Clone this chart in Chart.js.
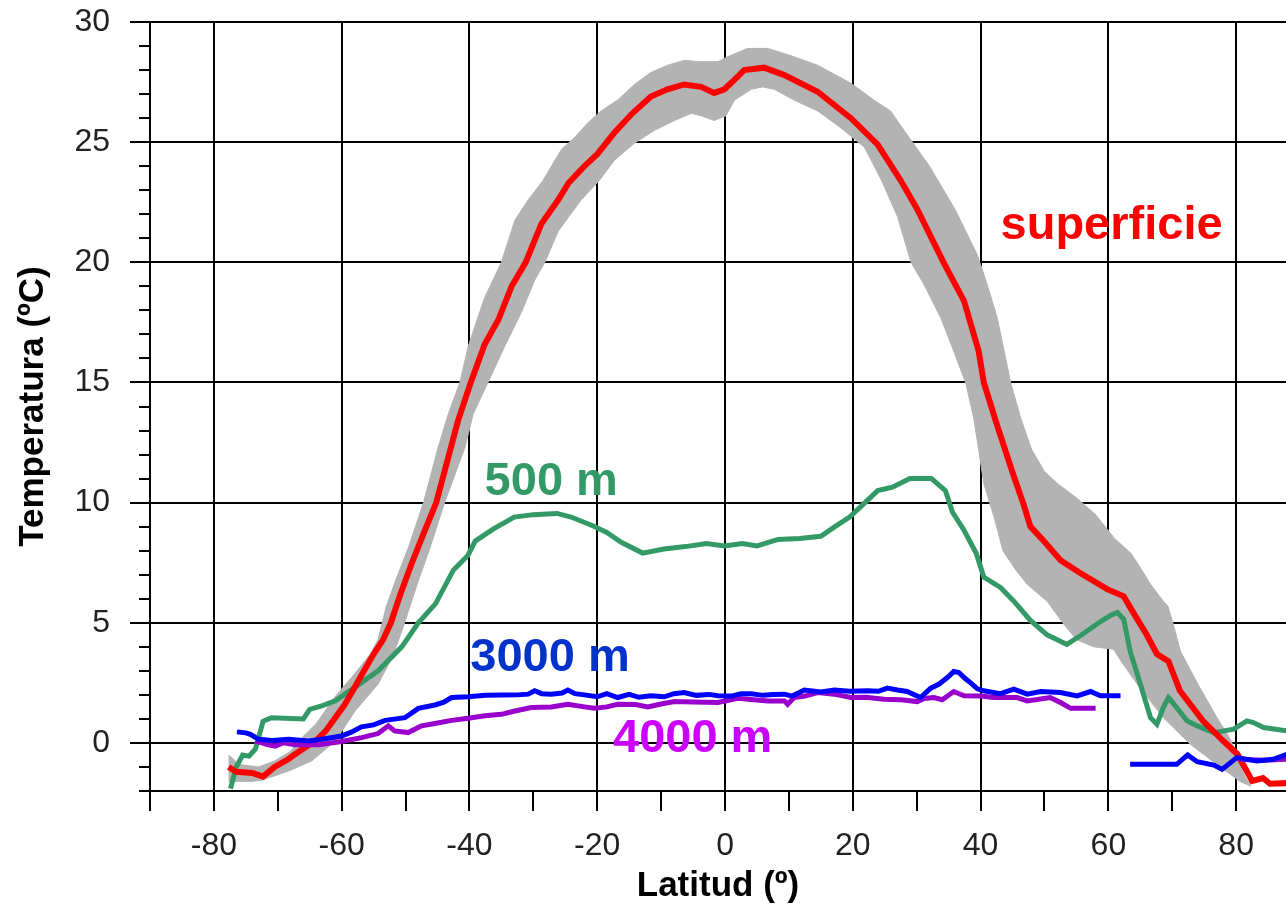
<!DOCTYPE html>
<html>
<head>
<meta charset="utf-8">
<title>Temperatura del océano según la latitud</title>
<script src="https://cdn.jsdelivr.net/npm/chart.js@4.4.1/dist/chart.umd.min.js"></script>
<style>
  html, body { margin: 0; padding: 0; background: #fff; }
  canvas { display: block; }
</style>
</head>
<body>
<canvas id="tempChart" width="1286" height="907"></canvas>
<script>
// Superficie (línea roja)
const surfLat = [-77.7, -76.5, -74, -72.3, -70.5, -68.5, -67.3, -65.5, -64, -62.5, -61, -59.5, -58, -56.5, -55, -53.5,
  -52.3, -50.8, -49, -47.2, -45.2, -43.3, -41.8, -39.8, -37.6, -35.5, -33.4, -31.2, -28.75, -26.1, -24.5, -22, -20,
  -17.3, -14.5, -11.6, -9, -6.4, -3.75, -1.7, -0.1, 1.5, 3, 6.1, 9.2, 14.5, 19.7, 23.9, 27.5, 30.1, 34.2, 37.4, 39.7,
  40.5, 42.6, 45.2, 46.7, 47.8, 49.9, 52.5, 55.4, 59.8, 62.4, 63.5, 66, 67.6, 69.4, 71.2, 74.8, 78, 80.2, 82.5, 84.2,
  85.3, 88];
const surfTemp = [-1.0, -1.2, -1.25, -1.4, -1.0, -0.7, -0.47, -0.15, 0.1, 0.5, 1.05, 1.6, 2.3, 3.0, 3.7, 4.3,
  5.0, 6.2, 7.5, 8.7, 10.0, 11.9, 13.4, 15.0, 16.6, 17.6, 19.0, 20.0, 21.6, 22.6, 23.3, 24.0, 24.5,
  25.4, 26.2, 26.9, 27.2, 27.4, 27.3, 27.05, 27.2, 27.6, 28.0, 28.1, 27.8, 27.1, 26.0, 24.9, 23.4, 22.2, 20.0, 18.4, 16.3,
  15.0, 13.2, 11.1, 9.95, 9.0, 8.4, 7.6, 7.1, 6.4, 6.1, 5.6, 4.5, 3.7, 3.4, 2.17, 0.92, 0.08, -0.47, -1.58, -1.46,
  -1.7, -1.67];

// Banda gris: borde superior y borde inferior
const bandTopLat = [-77.7, -76, -73, -70.5, -68, -66.3, -64, -61.1, -57.9, -55.5, -54.3, -53, -51.5, -49.6, -47.2,
  -44.9, -43.3, -41.5, -40.2, -39.2, -37.6, -35, -32.9, -30.8, -28.5, -25.6, -23.5, -21.5, -19.4, -16.8, -14.2, -11.6,
  -9, -6.4, -3.75, -1.1, 0.4, 3.5, 6.7, 10.3, 14.5, 19.7, 23.3, 25.9, 28, 32, 36, 39.5, 41, 42.6, 44.7, 46.3, 48, 50,
  52, 55, 58, 61, 63.5, 65, 66.6, 68.6, 69.3, 70.2, 71.3, 74, 77, 79, 80, 81.2, 82.3];
const bandTopTemp = [-0.5, -0.9, -1.0, -0.75, -0.35, 0.2, 0.8, 1.9, 2.9, 3.7, 4.3, 5.7, 6.8, 8.1, 10.0,
  12.3, 13.7, 15.0, 16.5, 17.3, 18.55, 20.0, 21.75, 22.6, 23.4, 24.7, 25.2, 25.8, 26.3, 26.75, 27.4, 27.9,
  28.2, 28.4, 28.35, 28.35, 28.55, 28.9, 28.9, 28.6, 28.2, 27.45, 26.75, 26.3, 25.5, 24.0, 22.2, 20.3, 19.1, 17.7, 15.0, 13.5, 12.2, 11.3,
  10.8, 10.2, 9.5, 8.5, 7.9, 7.3, 6.6, 5.9, 5.7, 4.9, 3.8, 2.45, 1.05, 0.2, -0.4, -1.3, -1.8];
const bandBotLat = [-77.7, -74, -72.5, -68.3, -64.7, -61, -57.9, -54.3, -52, -50.4, -48, -46.2, -43.9, -40.7, -39.4,
  -37.1, -34.5, -31.9, -29.8, -28.2, -26.1, -22.5, -19.7, -17.3, -14.2, -11, -7.9, -5.3, -3.75, -1.7, 0.15, 1.5, 4.1,
  5.9, 7.7, 10.8, 14.5, 18.1, 21.8, 24.5, 27, 29.1, 31.1, 33.75, 35.8, 37.7, 38.9, 39.7, 40.5, 42.1, 43.5, 45.5, 47.3,
  50.4, 53, 55, 57.7, 60.8, 62, 64.5, 68.6, 72.8, 77, 80.6, 82.3];
const bandBotTemp = [-1.6, -1.6, -1.55, -1.17, -0.75, 0.08, 1.33, 2.45, 3.6, 4.8, 6.75, 8.1, 10.0, 12.3, 13.7,
  15.0, 16.5, 17.9, 19.25, 20.0, 21.3, 22.6, 23.4, 24.25, 24.95, 25.5, 25.9, 26.2, 26.1, 25.9, 26.1, 26.75, 27.2,
  27.3, 27.2, 26.75, 26.3, 25.6, 24.8, 23.4, 21.9, 20.0, 19.1, 17.7, 16.3, 14.95, 13.55, 12.2, 10.8, 9.4, 8.0, 7.2, 6.6,
  5.9, 4.95, 4.3, 4.0, 3.9, 3.4, 2.45, 1.05, -0.05, -0.9, -1.6, -1.8];

// 500 m (verde)
const m500Lat = [-77.4, -76.5, -75.5, -74.5, -73.5, -72.3, -71, -66, -65, -63, -61, -58, -54.3, -50.6, -48, -45.3,
  -42.5, -40.25, -39.1, -36.3, -33, -30, -26.3, -24.1, -20.7, -18.5, -16.25, -12.9, -9.55, -6.2, -2.9, -0.07, 2.7, 5,
  8.3, 11.65, 15, 17.2, 19.5, 21.7, 23.9, 26.2, 28.95, 32.3, 34.5, 35.6, 37.3, 39.3, 40.5, 43.1, 45.2, 47.8, 50.4,
  53.5, 55.6, 58.2, 60.3, 61.4, 62.4, 63.4, 65, 66.6, 67.6, 68.6, 69.4, 70.7, 72.3, 73.9, 76.5, 79.6, 81.7, 82.7, 84.3, 88];
const m500Temp = [-1.9, -1.0, -0.5, -0.55, -0.25, 0.9, 1.05, 1.0, 1.4, 1.55, 1.75, 2.3, 3.0, 4.0, 5.0, 5.8,
  7.2, 7.8, 8.4, 8.9, 9.4, 9.5, 9.55, 9.4, 9.04, 8.76, 8.35, 7.9, 8.07, 8.17, 8.3, 8.2, 8.3, 8.2,
  8.47, 8.51, 8.6, 9.0, 9.4, 9.95, 10.5, 10.64, 11.0, 11.0, 10.5, 9.6, 8.9, 7.9, 6.9, 6.47, 5.9, 5.1, 4.5,
  4.1, 4.46, 4.95, 5.3, 5.43, 5.15, 3.83, 2.45, 1.05, 0.78, 1.47, 1.89, 1.47, 0.92, 0.71, 0.43, 0.57, 0.92, 0.85, 0.64, 0.5];

// 3000 m (azul), con un corte entre 62 y 63 N
const m3000Lat = [-76.4, -75, -74.3, -73, -70.9, -68.3, -65.2, -63.1, -60, -58.5, -56.9, -55, -53.2, -50.1, -48, -45.4,
  -44, -42.8, -40.2, -37.5, -35, -32.5, -30.8, -29.8, -28.7, -27.2, -25.5, -24.6, -23.5, -22, -20, -18.5, -16.8, -15,
  -13.5, -11.6, -9.5, -8, -6.4, -4.5, -2.5, -1.1, 1, 2.5, 4.1, 6, 7.5, 9.3, 10.5, 12.4, 15, 17.1, 19.5, 22.3, 24,
  25.4, 27, 28.5, 30.6, 32.2, 33.5, 34.8, 35.8, 36.6, 37.5, 38.4, 39.5, 40.5, 43.1, 45.2, 47.3, 49.4, 52.5, 55.1,
  57.2, 58.75, 61.9, 62.6, 63.4, 70.7, 72.4, 73.9, 76.5, 77.8, 80.1, 83.2, 85.8, 88];
const m3000Temp = [0.46, 0.42, 0.36, 0.15, 0.1, 0.15, 0.08, 0.15, 0.29, 0.45, 0.67, 0.75, 0.94, 1.05, 1.44, 1.58,
  1.7, 1.89, 1.92, 1.98, 1.99, 2.0, 2.03, 2.17, 2.05, 2.03, 2.08, 2.2, 2.05, 2.0, 1.92, 2.05, 1.89, 2.02,
  1.9, 1.96, 1.92, 2.05, 2.1, 1.98, 2.02, 1.96, 1.95, 2.05, 2.05, 1.98, 2.02, 2.03, 1.95, 2.2, 2.12, 2.2, 2.15, 2.17, 2.15,
  2.28, 2.2, 2.14, 1.89, 2.28, 2.45, 2.72, 2.97, 2.93, 2.7, 2.51, 2.25, 2.17, 2.05, 2.24, 2.03, 2.14, 2.1, 1.96,
  2.14, 1.96, 1.96, null, -0.89, -0.89, -0.5, -0.78, -0.92, -1.1, -0.61, -0.75, -0.68, -0.47];

// 4000 m (violeta), con un corte entre 58 y 80 N
const m4000Lat = [-73.5, -72.5, -71.5, -70.4, -69.1, -67.3, -63.6, -60, -56.9, -54.3, -52.7, -51.7, -49.6, -47.5, -45.4,
  -42.8, -40.2, -37.6, -35, -32.9, -30.3, -27.2, -24.6, -22, -20.4, -18.5, -16.8, -14, -12.1, -10, -7.9, -5, -1.1, 2,
  4.5, 6.7, 9.3, 9.8, 10.8, 12.5, 14.5, 17.1, 19.7, 22, 24.9, 27.5, 30.1, 31.2, 32.7, 34, 35.8, 37.4, 40, 42.1, 45.7,
  47.3, 50.9, 52.5, 54.1, 58, 70, 80.6, 84.3, 88];
const m4000Temp = [0.08, 0.0, -0.08, -0.13, 0.01, -0.08, -0.08, 0.06, 0.22, 0.39, 0.71, 0.5, 0.43, 0.71, 0.81,
  0.94, 1.03, 1.13, 1.19, 1.33, 1.47, 1.5, 1.61, 1.5, 1.44, 1.5, 1.61, 1.6, 1.5, 1.62, 1.72, 1.7, 1.68, 1.86,
  1.8, 1.75, 1.75, 1.61, 1.89, 1.95, 2.1, 2.03, 1.89, 1.9, 1.82, 1.8, 1.72, 1.85, 1.89, 1.8, 2.14, 1.96, 1.95, 1.89, 1.89,
  1.75, 1.89, 1.68, 1.44, 1.44, null, -0.68, -0.72, -0.68];

// Marcas de los ejes
const latTicks = [-90, -80, -70, -60, -50, -40, -30, -20, -10, 0, 10, 20, 30, 40, 50, 60, 70, 80];
const xLabelTicks = [-80, -60, -40, -20, 0, 20, 40, 60, 80];
const yLabelTicks = [0, 5, 10, 15, 20, 25, 30];

// Rótulos de las series
const seriesNotes = [
  { text: 'superficie', lat: 60.5, temp: 20.95, color: '#ff0000' },
  { text: '500 m', lat: -27.2, temp: 10.32, color: '#339966' },
  { text: '3000 m', lat: -27.4, temp: 3.0, color: '#0033cc' },
  { text: '4000 m', lat: -5.06, temp: -0.36, color: '#cc00ff' }
];

const FONT = "'Liberation Sans', Arial, sans-serif";
Chart.defaults.font.family = FONT;

const toPoints = (xs, ys) => xs.map((x, i) => ({ x: x, y: ys[i] }));

// contorno cerrado de la banda: borde superior y luego el inferior de vuelta
const bandShape = toPoints(bandTopLat, bandTopTemp).concat(toPoints(bandBotLat, bandBotTemp).reverse());

const clear = 'rgba(0,0,0,0)';

// marcas menores del eje Y y rótulos de las curvas
const extrasPlugin = {
  id: 'extras',
  afterDatasetsDraw(chart) {
    const { ctx, chartArea } = chart;
    const xs = chart.scales.x, ys = chart.scales.y;
    ctx.save();
    ctx.strokeStyle = '#000';
    ctx.lineWidth = 2;
    for (let v = ys.min; v <= ys.max; v++) {
      if (v % 5 === 0) continue;
      const py = Math.round(ys.getPixelForValue(v));
      ctx.beginPath();
      ctx.moveTo(chartArea.left - 11, py);
      ctx.lineTo(chartArea.left, py);
      ctx.stroke();
    }
    ctx.font = 'bold 47px ' + FONT;
    ctx.textAlign = 'center';
    ctx.textBaseline = 'alphabetic';
    seriesNotes.forEach(n => {
      ctx.fillStyle = n.color;
      ctx.fillText(n.text, xs.getPixelForValue(n.lat), ys.getPixelForValue(n.temp));
    });
    ctx.restore();
  }
};

const line = (data, color, width) => ({
  data: data,
  borderColor: color,
  borderWidth: width,
  pointRadius: 0,
  tension: 0,
  spanGaps: false,
  fill: false
});

new Chart(document.getElementById('tempChart'), {
  type: 'line',
  data: {
    datasets: [
      line(toPoints(m3000Lat, m3000Temp), '#0000ff', 5),
      line(toPoints(m4000Lat, m4000Temp), '#9900cc', 5),
      line(toPoints(surfLat, surfTemp), '#ff0000', 6),
      line(toPoints(m500Lat, m500Temp), '#339966', 5),
      {
        data: bandShape,
        borderColor: '#b3b3b3',
        borderWidth: 1,
        backgroundColor: '#b3b3b3',
        pointRadius: 0,
        tension: 0,
        fill: 'shape'
      }
    ]
  },
  options: {
    responsive: false,
    animation: false,
    devicePixelRatio: 1,
    layout: { padding: { top: 22, right: 0, bottom: 0, left: 0 } },
    plugins: {
      legend: { display: false },
      tooltip: { enabled: false }
    },
    scales: {
      x: {
        type: 'linear',
        min: -90,
        max: 87.8,
        afterFit: s => { s.height = 116; },
        afterBuildTicks: s => { s.ticks = latTicks.map(v => ({ value: v })); },
        ticks: {
          autoSkip: false,
          maxRotation: 0,
          padding: 16,
          color: '#222',
          font: { size: 32 },
          callback: v => xLabelTicks.includes(v) ? String(v) : ''
        },
        grid: {
          color: c => (c.tick && xLabelTicks.includes(c.tick.value)) ? '#000' : clear,
          tickColor: '#000',
          lineWidth: 2,
          tickLength: 20
        },
        border: { color: '#000', width: 2 },
        title: {
          display: true,
          text: 'Latitud (º)',
          color: '#000',
          font: { size: 35, weight: 'bold' },
          padding: { top: 0, bottom: 0 }
        }
      },
      y: {
        type: 'linear',
        min: -2,
        max: 30,
        afterFit: s => {
          s.width = 150;
          s.paddingTop = 0;
          s.paddingBottom = 0;
        },
        ticks: {
          stepSize: 1,
          autoSkip: false,
          padding: 20,
          color: '#222',
          font: { size: 32 },
          callback: v => yLabelTicks.includes(v) ? String(v) : ''
        },
        grid: {
          color: c => (c.tick && yLabelTicks.includes(c.tick.value)) ? '#000' : clear,
          tickColor: c => (c.tick && yLabelTicks.includes(c.tick.value)) ? '#000' : clear,
          lineWidth: 2,
          tickLength: 20
        },
        border: { color: '#000', width: 2 },
        title: {
          display: true,
          text: 'Temperatura (ºC)',
          color: '#000',
          font: { size: 35, weight: 'bold' },
          padding: { top: 12, bottom: 0 }
        }
      }
    }
  },
  plugins: [extrasPlugin]
});
</script>
</body>
</html>
